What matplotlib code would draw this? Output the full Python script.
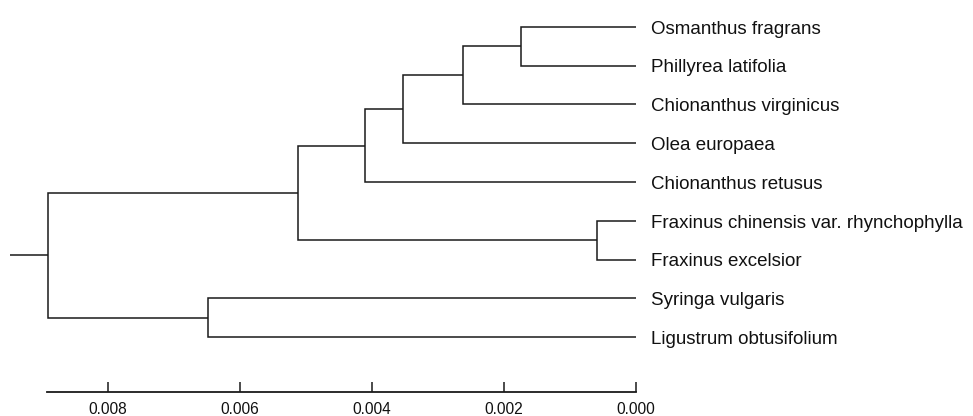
import matplotlib
matplotlib.use("Agg")
import matplotlib.pyplot as plt

# ---- data ----
leaves = [
    "Osmanthus fragrans",
    "Phillyrea latifolia",
    "Chionanthus virginicus",
    "Olea europaea",
    "Chionanthus retusus",
    "Fraxinus chinensis var. rhynchophylla",
    "Fraxinus excelsior",
    "Syringa vulgaris",
    "Ligustrum obtusifolium",
]
# merges: (child_a, child_b, height); children are leaf names or merge indices (ints)
merge_a = ["Osmanthus fragrans", 0, 1, 2, "Fraxinus chinensis var. rhynchophylla", 3, "Syringa vulgaris", 5]
merge_b = ["Phillyrea latifolia", "Chionanthus virginicus", "Olea europaea", "Chionanthus retusus",
           "Fraxinus excelsior", 4, "Ligustrum obtusifolium", 6]
merge_h = [0.00175, 0.00263, 0.00353, 0.00411, 0.00059, 0.00513, 0.00649, 0.00892]
root_stub = 0.00057
tick_values = [0.008, 0.006, 0.004, 0.002, 0.000]
tick_labels = ["0.008", "0.006", "0.004", "0.002", "0.000"]

plt.rcParams['font.family'] = ['Liberation Sans', 'DejaVu Sans']
leaf_fs, tick_fs = 13.5, 11.2

W, H = 973, 416
fig = plt.figure(figsize=(W / 100, H / 100), dpi=100)

# pixel mapping parameters
x0_px, scale_px = 636.0, 65960.0      # x pixel of distance 0, pixels per unit
y0_px, dy_px = 26.7, 38.8             # first leaf y pixel, leaf spacing

ax = fig.add_axes([0, 0, 1, 1])
ax.set_xlim(x0_px / scale_px, (x0_px - W) / scale_px)
ax.set_ylim((H - y0_px) / dy_px, -y0_px / dy_px)
ax.axis("off")

col = "#1a1a1a"
lw = 1.1

leaf_y = {name: i for i, name in enumerate(leaves)}
node_y = []

def pos(c):
    if isinstance(c, int):
        return merge_h[c], node_y[c]
    return 0.0, leaf_y[c]

for a, b, h in zip(merge_a, merge_b, merge_h):
    xa, ya = pos(a)
    xb, yb = pos(b)
    ax.plot([xa, h, h, xb], [ya, ya, yb, yb], color=col, lw=lw, solid_capstyle="butt",
            solid_joinstyle="miter")
    node_y.append((ya + yb) / 2)

ax.plot([merge_h[-1], merge_h[-1] + root_stub], [node_y[-1], node_y[-1]], color=col, lw=lw,
        solid_capstyle="butt")

for name in leaves:
    ax.annotate(name, (0.0, leaf_y[name]), xytext=(11.0, -4.9), textcoords="offset points",
                ha="left", va="baseline", fontsize=leaf_fs, color="#111111")

# scale bar axis
axis_y_px = 392.3
left_px = 47.3
ax2 = fig.add_axes([left_px / W, 1 - axis_y_px / H, (x0_px - left_px) / W, 0.01])
ax2.set_xlim(merge_h[-1], 0.0)
for s in ["top", "left", "right"]:
    ax2.spines[s].set_visible(False)
ax2.spines["bottom"].set_linewidth(1.3)
ax2.spines["bottom"].set_color(col)
ax2.patch.set_visible(False)
ax2.set_yticks([])
ax2.set_xticks(tick_values)
ax2.set_xticklabels(tick_labels)
ax2.tick_params(axis="x", direction="in", length=7, width=1.1, color=col, pad=7.0,
                labelsize=tick_fs, labelcolor="#111111")

fig.savefig("out.png", dpi=100)
